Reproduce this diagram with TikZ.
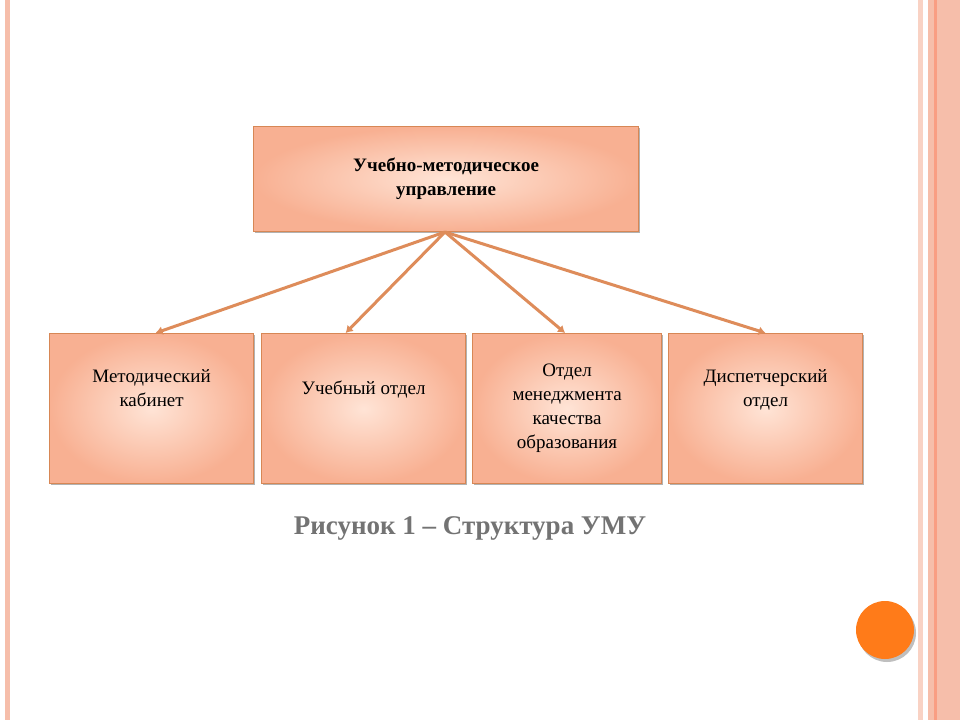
\documentclass[tikz,border=0pt]{standalone}
\usepackage{fontspec}
\setmainfont{Liberation Serif}
\usetikzlibrary{arrows.meta}
\definecolor{boxedge}{RGB}{215,135,85}
\definecolor{boxin}{RGB}{255,228,214}
\definecolor{boxout}{RGB}{248,176,146}
\definecolor{arrc}{RGB}{222,140,90}
\definecolor{strip}{RGB}{246,190,170}
\begin{document}
\begin{tikzpicture}[x=1pt,y=-1pt,
 box/.style={draw=boxedge,line width=1.2pt,inner color=boxin,outer color=boxout,align=center,font=\fontsize{19}{24}\selectfont,inner sep=0pt,anchor=north west},
 arr/.style={draw=arrc,line width=3pt,-{Latex[length=7pt,width=9pt]}}]
\useasboundingbox (0,0) rectangle (960,720);
\fill[white] (0,0) rectangle (960,720);
\fill[strip] (5,0) rectangle (10,720);
\fill[strip!70] (918,0) rectangle (923,720);
\fill[strip] (928,0) rectangle (960,720);
\fill[boxout!90!red] (934,0) rectangle (937,720);
\foreach \x/\y/\w/\h in {255/128/385/105,51/335/204/150,263/335/204/150,474/335/189/150,670/335/194/150}
  \fill[black!30] (\x,\y) rectangle ++(\w,\h);
\node[box,minimum width=385pt,minimum height=105pt,font=\fontsize{19}{24}\selectfont\bfseries] (top) at (253,126) {Учебно-методическое\\управление};
\node[box,minimum width=204pt,minimum height=150pt] (b1) at (49,333) {Методический\\кабинет\\[18pt]};
\node[box,minimum width=204pt,minimum height=150pt] (b2) at (261,333) {Учебный отдел\\[18pt]};
\node[box,minimum width=189pt,minimum height=150pt] (b3) at (472,333) {Отдел\\менеджмента\\качества\\образования};
\node[box,minimum width=194pt,minimum height=150pt] (b4) at (668,333) {Диспетчерский\\отдел\\[18pt]};
\coordinate (o) at (445,232);
\draw[arr] (o) -- ([xshift=4pt]b1.north);
\draw[arr] (o) -- ([xshift=-18pt]b2.north);
\draw[arr] (o) -- ([xshift=-2pt]b3.north);
\draw[arr] (o) -- (b4.north);
\node[font=\fontsize{27}{30}\selectfont\bfseries,text=black!55] (cap) at (470,528) {Рисунок 1 – Структура УМУ};
\fill[black!25] (887,633) circle (29);
\fill[orange!85!red!90!white] (885,630) circle (29);
\end{tikzpicture}
\end{document}
